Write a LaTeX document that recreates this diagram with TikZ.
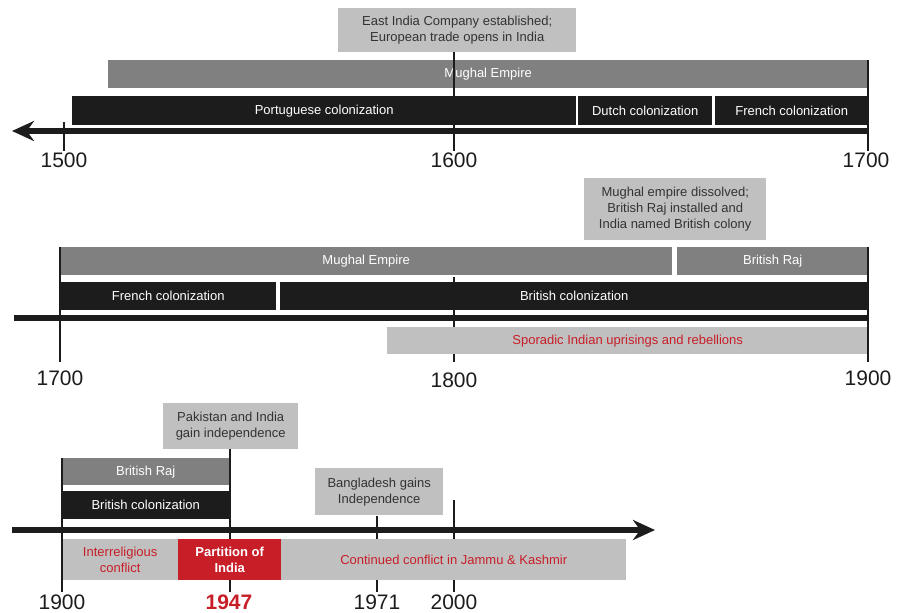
\documentclass[tikz,border=0pt]{standalone}
\usepackage{fontspec}
\setmainfont{Liberation Sans}
\usetikzlibrary{arrows.meta}
\definecolor{barblack}{RGB}{28,28,28}
\definecolor{bargray}{RGB}{128,128,128}
\definecolor{boxgray}{RGB}{192,192,192}
\definecolor{textgray}{RGB}{51,51,51}
\definecolor{indiared}{RGB}{200,30,40}
\begin{document}
\begin{tikzpicture}[x=1pt,y=-1pt,
    bar/.style={anchor=north west,inner sep=0pt,text=white,font=\fontsize{13}{16}\selectfont,align=center},
    darkbar/.style={bar,fill=barblack},
    graybar/.style={bar,fill=bargray},
    lightbar/.style={bar,fill=boxgray,text=indiared},
    note/.style={bar,fill=boxgray,text=textgray},
    axis/.style={line width=6pt,barblack},
    yeartick/.style={line width=2pt,barblack},
    year/.style={font=\fontsize{21}{24}\selectfont,text=barblack}]
    \useasboundingbox (0,0) rectangle (900,613);
    %% 1500 -- 1700
    \node[note,minimum width=238,minimum height=44] (east) at (338,8) {East India Company established;\\European trade opens in India};
    \node[graybar,minimum width=760,minimum height=28] (mughalA) at (108,60) {Mughal Empire};
    \node[darkbar,minimum width=504,minimum height=29] (portug) at (72,96) {Portuguese colonization};
    \node[darkbar,minimum width=134,minimum height=29] (dutch) at (578,96) {Dutch colonization};
    \node[darkbar,minimum width=153,minimum height=29] (frenchA) at (715,96) {French colonization};
    \draw[axis,-{Stealth[length=22pt,width=20pt]}] (868,131) -- (12,131);
    \node[year] (y1500) at (64,160) {1500};
    \node[year] (y1600) at (454,160) {1600};
    \node[year] (y1700a) at (866,160) {1700};
    \draw[yeartick] (64,122) -- (64,151);
    \draw[yeartick] (454,52) -- (454,151);
    \draw[yeartick] (868,60) -- (868,151);
    %% 1700 -- 1900
    \node[note,minimum width=182,minimum height=62] (dissolved) at (584,178) {Mughal empire dissolved;\\British Raj installed and\\India named British colony};
    \draw[yeartick] (454,277) -- (454,362);
    \node[graybar,minimum width=612,minimum height=28] (mughalB) at (60,247) {Mughal Empire};
    \node[graybar,minimum width=191,minimum height=28] (rajA) at (677,247) {British Raj};
    \node[darkbar,minimum width=216,minimum height=28] (frenchB) at (60,282) {French colonization};
    \node[darkbar,minimum width=588,minimum height=28] (britA) at (280,282) {British colonization};
    \draw[axis] (14,318) -- (868,318);
    \node[lightbar,minimum width=481,minimum height=27] (sporadic) at (387,327) {Sporadic Indian uprisings and rebellions};
    \draw[yeartick] (60,247) -- (60,362);
    \draw[yeartick] (868,247) -- (868,362);
    \node[year] (y1700b) at (60,378) {1700};
    \node[year] (y1800) at (454,380) {1800};
    \node[year] (y1900a) at (868,378) {1900};
    %% 1900 -- today
    \node[note,minimum width=135,minimum height=46] (indep) at (163,403) {Pakistan and India\\gain independence};
    \node[note,minimum width=128,minimum height=47] (bangla) at (315,468) {Bangladesh gains\\Independence};
    \draw[yeartick] (230,449) -- (230,592);
    \draw[yeartick] (377,516) -- (377,592);
    \draw[yeartick] (454,500) -- (454,592);
    \node[graybar,minimum width=167,minimum height=27] (rajB) at (62,458) {British Raj};
    \node[darkbar,minimum width=167,minimum height=28] (britB) at (62,491) {British colonization};
    \draw[axis,-{Stealth[length=22pt,width=20pt]}] (12,530) -- (655,530);
    \node[lightbar,minimum width=116,minimum height=41] (interrel) at (62,539) {Interreligious\\conflict};
    \node[bar,fill=indiared,minimum width=103,minimum height=41,font=\fontsize{13}{16}\selectfont\bfseries] (partition) at (178,539) {Partition of\\India};
    \node[lightbar,minimum width=345,minimum height=41] (continued) at (281,539) {Continued conflict in Jammu \& Kashmir};
    \draw[yeartick] (62,458) -- (62,592);
    \node[year] (y1900b) at (62,602) {1900};
    \node[year,text=indiared,font=\fontsize{21}{24}\selectfont\bfseries] (y1947) at (229,602) {1947};
    \node[year] (y1971) at (377,602) {1971};
    \node[year] (y2000) at (454,602) {2000};
\end{tikzpicture}
\end{document}
